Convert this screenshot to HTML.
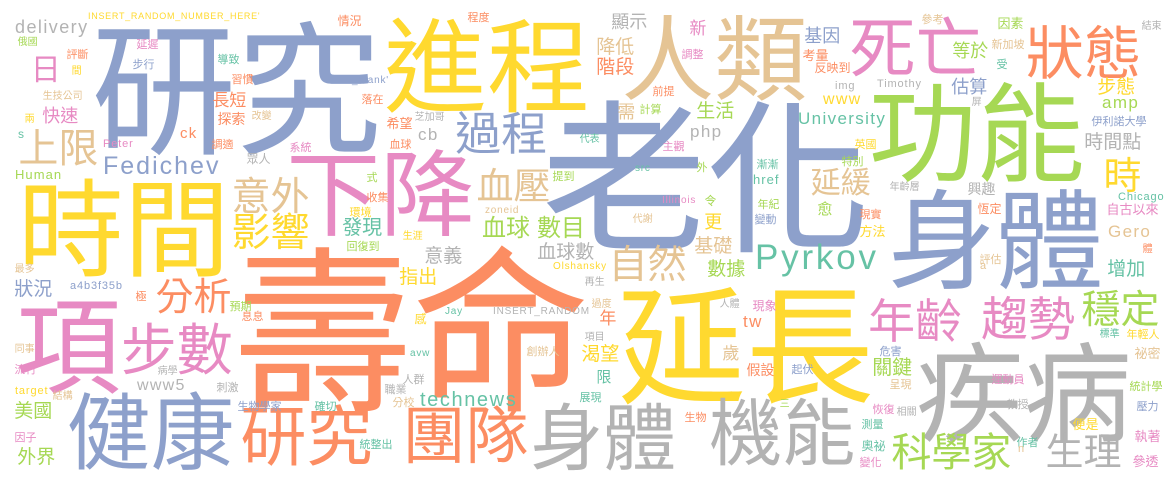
<!DOCTYPE html>
<html><head><meta charset="utf-8"><style>
html,body{margin:0;padding:0;background:#fff;}
#cloud{position:relative;width:1175px;height:482px;overflow:hidden;background:#fff;}
#cloud span{position:absolute;white-space:nowrap;line-height:1;font-family:"Liberation Sans","Noto Sans CJK TC",sans-serif;}
</style></head><body>
<div id="cloud"></div>
<script>
const C={B:'#8da0cb',O:'#fc8d62',G:'#a6d854',P:'#e78ac3',Y:'#ffd92f',E:'#e5c494',R:'#b3b3b3',T:'#66c2a5'};
const cjkWords=[
['研究',97,18,145,'B'],['時間',22,177,106,'Y'],['項',20,295,105,'P'],['步數',123,322,56,'P'],['分析',157,278,38,'O'],
['健康',70,390,84,'B'],['研究',243,403,66,'O'],['壽命',241,243,178,'O'],['老化',548,97,165,'B'],['延長',623,283,128,'Y'],
['疾病',920,340,108,'R'],['身體',892,187,108,'B'],['功能',873,80,108,'G'],['死亡',852,15,66,'P'],['狀態',1028,25,58,'O'],
['人類',625,13,93,'E'],['進程',388,15,103,'Y'],['下降',290,147,94,'P'],['過程',457,110,46,'B'],['血壓',478,167,37,'E'],
['血球',483,217,24,'G'],['數目',538,217,24,'G'],['血球數',538,243,19,'R'],['意義',425,247,19,'R'],['自然',610,245,39,'E'],
['延緩',812,168,30,'E'],['影響',233,213,39,'Y'],['意外',233,177,39,'E'],['上限',20,128,40,'E'],['日',32,55,30,'P'],
['快速',43,107,18,'P'],['長短',213,92,17,'O'],['探索',218,112,14,'O'],['發現',343,218,20,'T'],['狀況',15,280,19,'B'],
['美國',15,402,19,'G'],['外界',18,448,19,'G'],['團隊',405,405,63,'O'],['身體',533,402,73,'R'],['機能',712,397,73,'R'],
['年齡',870,297,47,'P'],['趨勢',983,295,47,'P'],['穩定',1083,290,39,'G'],['科學家',893,432,40,'G'],['生理',1047,433,38,'R'],
['增加',1108,260,19,'T'],['關鍵',873,358,20,'G'],['時',1105,157,38,'Y'],['時間點',1085,133,19,'R'],['步態',1098,78,19,'Y'],
['估算',952,78,18,'B'],['等於',953,42,18,'G'],['基因',805,27,18,'B'],['自古以來',1107,203,13,'P'],['方法',860,225,13,'Y'],
['愈',818,202,15,'G'],['興趣',968,182,14,'R'],['年齡層',890,183,10,'R'],['恆定',978,203,12,'O'],['現實',860,210,11,'O'],
['特別',842,157,11,'G'],['英國',855,140,11,'Y'],['考量',803,49,13,'O'],['反映到',815,62,12,'O'],['參考',922,15,11,'E'],
['因素',998,17,13,'G'],['新加坡',992,40,11,'E'],['受',997,60,11,'T'],['結束',1142,22,10,'R'],['伊利諾大學',1092,117,11,'B'],
['屏',972,98,10,'R'],['體',1143,245,10,'O'],['評估',980,255,11,'E'],['標準',1100,330,10,'T'],['年輕人',1127,330,11,'Y'],
['祕密',1135,347,13,'E'],['危害',880,347,11,'B'],['起伏',792,365,11,'B'],['呈現',890,380,11,'E'],['運動員',992,375,11,'P'],
['統計學',1130,382,11,'G'],['教授',1007,400,11,'R'],['壓力',1137,402,11,'B'],['恢復',873,405,11,'P'],['相關',897,408,10,'R'],
['便是',1073,418,13,'Y'],['測量',862,420,11,'T'],['執著',1135,430,13,'P'],['奧祕',862,440,12,'T'],['作者',1017,438,11,'T'],
['變化',860,458,11,'P'],['參透',1133,455,13,'P'],['三',780,400,10,'G'],['需',618,103,18,'E'],['計算',640,105,11,'G'],
['生活',697,102,19,'G'],['芝加哥',415,113,10,'R'],['希望',387,117,13,'O'],['血球',390,140,11,'O'],['代表',580,135,10,'T'],
['主觀',663,142,11,'P'],['外',697,163,11,'G'],['漸漸',757,160,11,'T'],['提到',553,172,11,'G'],['令',705,195,12,'G'],
['年紀',758,200,11,'G'],['變動',755,215,11,'B'],['代謝',633,215,10,'E'],['更',705,213,18,'Y'],['生涯',403,232,10,'Y'],
['基礎',695,237,19,'E'],['數據',708,260,19,'G'],['指出',400,268,19,'Y'],['再生',585,278,10,'R'],['過度',592,300,10,'E'],
['人體',720,300,10,'R'],['現象',753,300,12,'P'],['感',415,313,12,'Y'],['年',600,310,17,'O'],['項目',585,333,10,'R'],
['渴望',582,345,19,'Y'],['歲',723,345,17,'E'],['創辦人',527,347,11,'E'],['假設',747,363,14,'O'],['人群',403,375,11,'R'],
['限',597,370,15,'T'],['職業',385,385,11,'R'],['分校',393,398,11,'E'],['展現',580,393,11,'T'],['生物',685,413,11,'O'],
['程度',468,13,11,'O'],['顯示',612,13,18,'R'],['新',690,20,17,'P'],['降低',597,38,19,'E'],['調整',682,50,11,'P'],
['階段',597,58,19,'O'],['前提',653,87,11,'O'],['情況',338,15,12,'O'],['俄國',18,38,10,'G'],['延遲',137,40,11,'P'],
['評斷',67,50,11,'O'],['導致',218,55,11,'T'],['步行',133,60,11,'B'],['間',72,67,10,'Y'],['習慣',232,75,11,'O'],
['生技公司',43,92,10,'E'],['落在',362,95,11,'O'],['兩',25,115,10,'Y'],['改變',252,112,10,'E'],['調適',212,140,11,'O'],
['系統',290,143,11,'P'],['眾人',247,153,12,'R'],['式',367,173,11,'G'],['收集',367,193,11,'O'],['環境',350,208,11,'Y'],
['回復到',347,242,11,'G'],['最多',15,265,10,'E'],['極',136,292,11,'O'],['預期',230,302,11,'G'],['息息',242,312,11,'O'],
['同事',15,345,10,'E'],['流行',15,365,11,'P'],['病學',158,367,10,'R'],['結構',53,392,10,'E'],['刺激',217,383,11,'R'],
['生物學家',238,402,11,'B'],['確切',315,402,11,'T'],['因子',15,433,11,'P'],['統整出',360,440,11,'T']
];
const latinWords=[
['Fedichev',103,157,25,'B',0],['Pyrkov',755,245,35,'T',0],['University',798,112,17,'T',0],['delivery',15,20,18,'R',0],
["INSERT_RANDOM_NUMBER_HERE'",88,13,9,'Y',0],['Human',15,170,13,'G',0],['a4b3f35b',70,282,11,'B',0],['www5',137,380,16,'R',0],
['technews',420,393,20,'T',0],['www',823,97,16,'Y',1],['amp',1102,100,17,'G',1],['Gero',1108,225,17,'E',0],
['Chicago',1118,193,11,'T',0],['img',835,82,11,'R',0],['Timothy',877,80,11,'R',0],['a',980,265,11,'E',1],['n',1018,448,11,'E',1],
['php',690,125,17,'R',0],['cb',418,128,17,'R',0],['href',753,175,13,'T',0],['src',635,167,10,'T',1],['Illinois',662,197,10,'P',0],
['zoneid',485,207,10,'E',0],['Olshansky',553,263,10,'Y',0],['Jay',445,308,10,'T',0],['INSERT_RANDOM',493,308,10,'R',0],
['tw',743,315,17,'O',0],['avw',410,352,10,'T',1],["_blank'",352,77,10,'B',0],['s',18,132,12,'T',1],['ck',180,128,15,'O',0],
['Peter',103,140,11,'P',0],['target',15,387,11,'Y',0]
];
const cloud=document.getElementById('cloud');
cjkWords.forEach(function(w){
  const el=document.createElement('span');
  
  
  el.textContent=w[0];
  el.style.left=(w[1]-0.04*w[3])+'px';
  el.style.top=(w[2]+0.02*w[3])+'px';
  el.style.fontSize=w[3]+'px';
  el.style.color=C[w[4]];
  cloud.appendChild(el);
});
latinWords.forEach(function(w){
  const el=document.createElement('span');
  
  
  el.textContent=w[0];
  const off=w[5]?0.33:0.13;
  el.style.left=w[1]+'px';
  el.style.top=(w[2]-off*w[3])+'px';
  el.style.fontSize=w[3]+'px';
  el.style.letterSpacing='0.08em';
  el.style.color=C[w[4]];
  cloud.appendChild(el);
});
</script>
</body></html>
